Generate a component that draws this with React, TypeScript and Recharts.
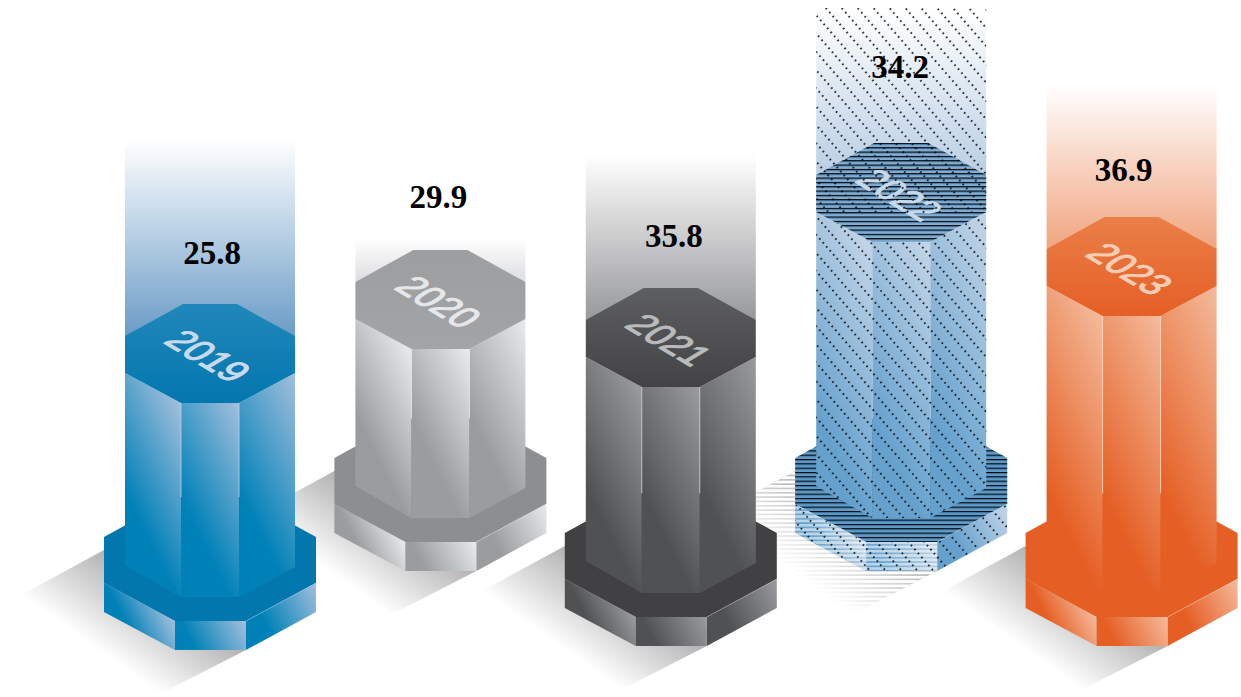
import { Bar, BarChart, LabelList, XAxis, YAxis } from "recharts";

// Heights are in chart units, measured up from the bottom of the plot.
const years = ["2019", "2020", "2021", "2022", "2023"];
const values = [25.8, 29.9, 35.8, 34.2, 36.9];
const columnTops = [393, 447, 409, 554, 480];
const columnBases = [47, 126, 51, 126, 51];
const fadeTops = [557, 459, 542, 689, 612];

const data = years.map((year, i) => ({
  year,
  value: values[i],
  columnRange: [columnBases[i], columnTops[i]],
  fadeRange: [columnTops[i] - 32, fadeTops[i]]
}));

const palettes = [
  { sat: "#0081b8", light: "#a3bfdc", top: ["#2187ba", "#0277ae"], base: "#0277ae", fade: "#6a9cc7", text: "#c8daec", hair: "#bcd2e6" },
  { sat: "#9b9c9e", light: "#e9eaeb", top: ["#9c9ea0", "#a2a4a6"], base: "#8d8e90", fade: "#dcdddf", text: "#e6e7e8", hair: "#e9eaeb" },
  { sat: "#505153", light: "#9a9b9e", top: ["#5d5e60", "#434345"], base: "#414042", fade: "#97989a", text: "#b9babc", hair: "#c9cacc" },
  { sat: "#66a1cd", light: "#c5d6e8", top: ["#84add2", "#84add2"], base: "#5f9bc9", fade: "#b9cee4", text: "#c8d9ea", hair: "#b4cbe2" },
  { sat: "#e55f25", light: "#f4bb9c", top: ["#ea7f47", "#e55f26"], base: "#e55f25", fade: "#f1a57f", text: "#f7cdb5", hair: "#f8d5c0" }
];

const HATCHED = 3;
const labelNudges = [
  { dx: 2, dy: -40 },
  { dx: -2, dy: -42 },
  { dx: 3, dy: -41 },
  { dx: -1, dy: -65 },
  { dx: -8, dy: -36 }
];

const pts = (list: number[][]) => list.map((p) => p.join(",")).join(" ");
const pathOf = (list: number[][]) => `M${list.map((p) => p.join(" ")).join("L")}Z`;

function FaceGradient({ id, xL, xR, ySat, yCorner, sat, light }: any) {
  const len = (xR - xL) * 0.894 + (ySat - yCorner) * 0.447;
  return (
    <linearGradient
      id={id}
      gradientUnits="userSpaceOnUse"
      x1={xL}
      y1={ySat}
      x2={xL + len * 0.894}
      y2={ySat - len * 0.447}
    >
      <stop offset="0" stopColor={sat} />
      <stop offset="1" stopColor={light} />
    </linearGradient>
  );
}

function ShadowShape({ x, y, width, height, index }: any) {
  const cx = x + width / 2;
  const b = y + height;
  const poly = [
    [cx - 106, b - 100],
    [cx - 198, b - 50],
    [cx - 58, b + 48],
    [cx + 36, b]
  ];
  return (
    <g>
      <defs>
        <linearGradient
          id={`shadow-${index}`}
          gradientUnits="userSpaceOnUse"
          x1={cx - 106}
          y1={b - 100}
          x2={cx - 155}
          y2={b - 31}
        >
          <stop offset="0" stopColor="#b3b1b1" />
          <stop offset="1" stopColor="#b3b1b1" stopOpacity={0} />
        </linearGradient>
      </defs>
      <polygon points={pts(poly)} fill={`url(#shadow-${index})`} />
      {index === HATCHED && <polygon points={pts(poly)} fill="url(#whiteStripes)" />}
    </g>
  );
}

function FadeShape({ x, y, width, height, index }: any) {
  return (
    <g>
      <defs>
        <linearGradient id={`fade-${index}`} x1="0" y1="0" x2="0" y2="1">
          <stop offset="0" stopColor={palettes[index].fade} stopOpacity={0} />
          <stop offset="1" stopColor={palettes[index].fade} />
        </linearGradient>
      </defs>
      <rect x={x} y={y} width={width} height={height} fill={`url(#fade-${index})`} />
    </g>
  );
}

function ColumnShape({ x, y, width, height, index }: any) {
  const c = palettes[index];
  const cx = x + width / 2;
  const t = y;
  const b = y + height;
  const fb = b - 53;
  const hw = width / 2;
  const id = (name: string) => `${name}-${index}`;
  const hatched = index === HATCHED;

  const baseTop = [
    [cx - 35, b - 152],
    [cx + 35, b - 152],
    [cx + 106, b - 113],
    [cx + 106, b - 67],
    [cx + 36, b - 29],
    [cx - 35, b - 29],
    [cx - 106, b - 67],
    [cx - 106, b - 113]
  ];
  const baseLeft = [
    [cx - 106, b - 67],
    [cx - 35, b - 29],
    [cx - 35, b],
    [cx - 106, b - 38]
  ];
  const baseFront = [
    [cx - 35, b - 29],
    [cx + 36, b - 29],
    [cx + 36, b],
    [cx - 35, b]
  ];
  const baseRight = [
    [cx + 36, b - 29],
    [cx + 106, b - 67],
    [cx + 106, b - 38],
    [cx + 36, b]
  ];
  const bodyLeft = [
    [cx - hw, t + 69],
    [cx - 29, t + 99],
    [cx - 29, fb],
    [cx - hw, fb - 32]
  ];
  const bodyFront = [
    [cx - 29, t + 99],
    [cx + 29, t + 99],
    [cx + 29, fb],
    [cx - 29, fb]
  ];
  const bodyRight = [
    [cx + 29, t + 99],
    [cx + hw, t + 69],
    [cx + hw, fb - 30],
    [cx + 29, fb]
  ];
  const topFace = [
    [cx - 27, t],
    [cx + 27, t],
    [cx + hw, t + 32],
    [cx + hw, t + 69],
    [cx + 29, t + 99],
    [cx - 29, t + 99],
    [cx - hw, t + 69],
    [cx - hw, t + 32]
  ];
  const dotArea = [
    pathOf([
      [cx - hw, 697 - fadeTops[index]],
      [cx + hw, 697 - fadeTops[index]],
      [cx + hw, t + 70],
      [cx - hw, t + 70]
    ]),
    pathOf(bodyLeft),
    pathOf(bodyFront),
    pathOf(bodyRight),
    pathOf(baseLeft),
    pathOf(baseFront),
    pathOf(baseRight)
  ].join("");

  return (
    <g>
      <defs>
        <FaceGradient id={id("bl")} xL={cx - hw} xR={cx - 29} ySat={fb - 105} yCorner={t + 99} sat={c.sat} light={c.light} />
        <FaceGradient id={id("bf")} xL={cx - 29} xR={cx + 29} ySat={fb - 100} yCorner={t + 99} sat={c.sat} light={c.light} />
        <FaceGradient id={id("br")} xL={cx + 29} xR={cx + hw} ySat={fb - 104} yCorner={t + 69} sat={c.sat} light={c.light} />
        <FaceGradient id={id("sl")} xL={cx - 88} xR={cx - 35} ySat={b - 35} yCorner={b - 29} sat={c.sat} light={c.light} />
        <FaceGradient id={id("sf")} xL={cx - 20} xR={cx + 36} ySat={b - 10} yCorner={b - 29} sat={c.sat} light={c.light} />
        <FaceGradient id={id("sr")} xL={cx + 54} xR={cx + 106} ySat={b - 30} yCorner={b - 67} sat={c.sat} light={c.light} />
        <linearGradient id={id("tf")} x1="0" y1="0" x2="0" y2="1">
          <stop offset="0" stopColor={c.top[0]} />
          <stop offset="1" stopColor={c.top[1]} />
        </linearGradient>
      </defs>

      <polygon points={pts(baseTop)} fill={c.base} />
      {hatched && <polygon points={pts(baseTop)} fill="url(#blackLines)" />}
      <polygon points={pts(baseLeft)} fill={`url(#${id("sl")})`} />
      <polygon points={pts(baseFront)} fill={`url(#${id("sf")})`} />
      <polygon points={pts(baseRight)} fill={`url(#${id("sr")})`} />
      {hatched && <polygon points={pts(baseLeft)} fill="url(#whiteStripes)" opacity={0.55} />}
      {hatched && <polygon points={pts(baseFront)} fill="url(#whiteStripes)" opacity={0.55} />}
      <line x1={cx + 36} y1={b - 29} x2={cx + 106} y2={b - 67} stroke={c.hair} strokeWidth={0.5} opacity={0.7} />

      <polygon points={pts(bodyLeft)} fill={`url(#${id("bl")})`} />
      <polygon points={pts(bodyFront)} fill={`url(#${id("bf")})`} />
      <polygon points={pts(bodyRight)} fill={`url(#${id("br")})`} />
      <line x1={cx - 29} y1={t + 99} x2={cx - 29} y2={fb - 100} stroke={c.hair} strokeWidth={0.8} />
      <line x1={cx + 29} y1={t + 99} x2={cx + 29} y2={fb - 100} stroke={c.hair} strokeWidth={0.8} />

      <polygon points={pts(topFace)} fill={`url(#${id("tf")})`} />
      {hatched && <polygon points={pts(topFace)} fill="url(#blackLines)" />}
      <text
        transform={`matrix(0.88 0.53 -0.96 0.58 ${cx - 2} ${t + 52})`}
        textAnchor="middle"
        y={12}
        fontFamily="Liberation Sans"
        fontSize={35}
        fill={c.text}
        stroke={c.text}
        strokeWidth={1.1}
      >
        {years[index]}
      </text>
      {hatched && <path d={dotArea} fill="url(#dots)" />}
    </g>
  );
}

function ValueLabel({ x, y, width, value, index }: any) {
  const nudge = labelNudges[index];
  return (
    <text
      x={x + width / 2 + nudge.dx}
      y={y + nudge.dy}
      textAnchor="middle"
      fontFamily="Liberation Serif"
      fontWeight="bold"
      fontSize={33}
      fill="#000000"
    >
      {value}
    </text>
  );
}

export default function App() {
  return (
    <div style={{ position: "absolute", left: 0, top: 0, width: 1241, height: 697, background: "#ffffff", overflow: "hidden" }}>
      <BarChart
        width={1241}
        height={697}
        data={data}
        barSize={170}
        barGap={-170}
        margin={{ left: 95, right: -6, top: 0, bottom: 0 }}
      >
        <defs>
          <pattern id="blackLines" width={10} height={4.33} patternUnits="userSpaceOnUse">
            <rect x={0} y={0} width={10} height={1} fill="#000000" />
            <rect x={0} y={1} width={10} height={0.9} fill="#34658e" />
          </pattern>
          <pattern id="whiteStripes" width={10} height={4.33} patternUnits="userSpaceOnUse">
            <rect x={0} y={0} width={10} height={2.7} fill="#ffffff" />
          </pattern>
          <pattern
            id="dots"
            width={5.3}
            height={12}
            patternUnits="userSpaceOnUse"
            patternTransform="rotate(49)"
          >
            <circle cx={2.65} cy={6} r={0.9} fill="#000000" />
          </pattern>
        </defs>
        <XAxis dataKey="year" hide />
        <YAxis hide domain={[0, 697]} allowDataOverflow />
        <Bar dataKey="columnRange" shape={ShadowShape} isAnimationActive={false} />
        <Bar dataKey="fadeRange" shape={FadeShape} isAnimationActive={false} />
        <Bar dataKey="columnRange" shape={ColumnShape} isAnimationActive={false}>
          <LabelList dataKey="value" content={ValueLabel} />
        </Bar>
      </BarChart>
    </div>
  );
}
